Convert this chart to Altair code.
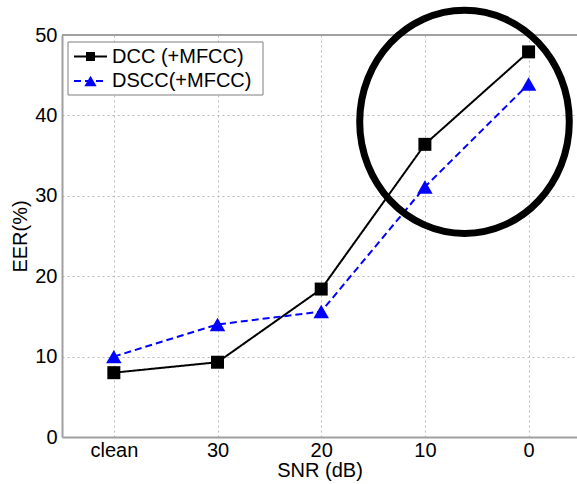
import altair as alt
import pandas as pd

# ---- data ----
snr_labels = ["clean", "30", "20", "10", "0"]
dcc_eer = [8.0, 9.3, 18.4, 36.4, 47.9]
dscc_eer = [10.0, 14.0, 15.6, 31.1, 43.9]
series_names = ["DCC (+MFCC)", "DSCC(+MFCC)"]
y_ticks = [0, 10, 20, 30, 40, 50]

# ---- style ----
series_colors = ["#000000", "#0000ff"]
series_dash = [[1, 0], [7, 4]]
series_shapes = ["square", "triangle-up"]
series_sizes = [169, 240]
legend_sizes = [81, 150]
FONT = "Liberation Sans"

rows = []
for i, lab in enumerate(snr_labels):
    rows.append({"idx": i, "snr": lab, "series": series_names[0], "eer": dcc_eer[i]})
    rows.append({"idx": i, "snr": lab, "series": series_names[1], "eer": dscc_eer[i]})
df = pd.DataFrame(rows)

label_expr = "[" + ",".join("'%s'" % l for l in snr_labels) + "][datum.value]"

x_enc = alt.X(
    "idx:Q",
    scale=alt.Scale(domain=[-0.5, 4.467], nice=False, zero=False),
    axis=alt.Axis(values=list(range(len(snr_labels))), labelExpr=label_expr,
                  title="SNR (dB)", labelPadding=3, titlePadding=0),
)
y_enc = alt.Y(
    "eer:Q",
    scale=alt.Scale(domain=[0, 50], nice=False),
    axis=alt.Axis(values=y_ticks, title="EER(%)", labelPadding=5, titlePadding=4),
)
color_enc = alt.Color("series:N", scale=alt.Scale(domain=series_names, range=series_colors), legend=None)

base = alt.Chart(df)
lines = base.mark_line(strokeWidth=2).encode(
    x=x_enc, y=y_enc, color=color_enc,
    strokeDash=alt.StrokeDash("series:N", scale=alt.Scale(domain=series_names, range=series_dash), legend=None),
)
points = base.mark_point(filled=True, opacity=1).encode(
    x=x_enc, y=y_enc, color=color_enc,
    shape=alt.Shape("series:N", scale=alt.Scale(domain=series_names, range=series_shapes), legend=None),
    size=alt.Size("series:N", scale=alt.Scale(domain=series_names, range=series_sizes), legend=None),
)

one = pd.DataFrame({"a": [0]})
top_border = alt.Chart(one).mark_rule(color="#a0a0a0", strokeWidth=2).encode(
    x=alt.value(0), x2=alt.value(520), y=alt.value(0))

# annotation ellipse
ellipse_path = ("M 1 0 C 1 0.588 0.552 1.065 0 1.065 C -0.552 1.065 -1 0.588 -1 0 "
                "C -1 -0.588 -0.552 -1.065 0 -1.065 C 0.552 -1.065 1 -0.588 1 0 Z")
ellipse = alt.Chart(one).mark_point(
    shape=ellipse_path, filled=False, color="black", strokeWidth=7, size=43932, opacity=1
).encode(x=alt.datum(3.382), y=alt.datum(39.2))

# legend
legend_layers = [
    alt.Chart(one).mark_rect(fill="white", stroke="#7f7f7f", strokeWidth=1).encode(
        x=alt.value(6), x2=alt.value(201), y=alt.value(7), y2=alt.value(60))
]
legend_rows = [21.5, 46]
for i, name in enumerate(series_names):
    d = pd.DataFrame({"series": [name]})
    legend_layers.append(alt.Chart(d).mark_rule(
        color=series_colors[i], strokeDash=series_dash[i], strokeWidth=2
    ).encode(x=alt.value(12), x2=alt.value(45), y=alt.value(legend_rows[i])))
    legend_layers.append(alt.Chart(d).mark_point(
        shape=series_shapes[i], filled=True, color=series_colors[i], size=legend_sizes[i], opacity=1
    ).encode(x=alt.value(28.5), y=alt.value(legend_rows[i])))
    legend_layers.append(alt.Chart(d).mark_text(
        align="left", baseline="middle", font=FONT, fontSize=20, color="black"
    ).encode(x=alt.value(50), y=alt.value(legend_rows[i]), text="series:N"))

chart = alt.layer(lines, points, top_border, ellipse, *legend_layers).properties(
    width=515, height=402,
    autosize=alt.AutoSizeParams(type="none"),
    padding={"left": 62, "top": 35, "right": 0, "bottom": 47},
    background="white",
).configure_view(stroke=None).configure_axis(
    domainColor="#a0a0a0", domainWidth=2, ticks=False,
    labelFont=FONT, labelFontSize=20, labelColor="#000000",
    titleFont=FONT, titleFontSize=20, titleFontWeight="normal", titleColor="#000000",
    grid=True, gridColor="#b8b8b8", gridDash=[2, 3], gridWidth=1,
)

chart.save("out.html", embed_options={"renderer": "svg", "actions": False})
